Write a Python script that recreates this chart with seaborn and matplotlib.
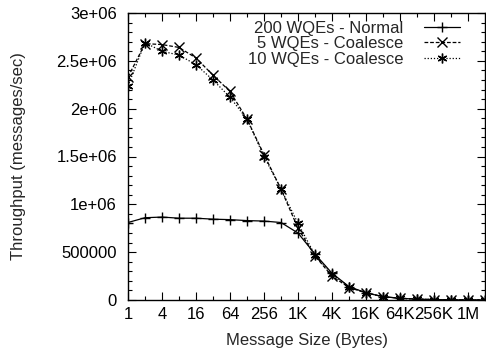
import numpy as np
import pandas as pd
import matplotlib
matplotlib.use("Agg")
import matplotlib.pyplot as plt
import seaborn as sns
from matplotlib.ticker import FixedLocator, NullFormatter, MultipleLocator

sizes = [2 ** k for k in range(22)]
normal = [0.81e6, 0.86e6, 0.867e6, 0.855e6, 0.855e6, 0.845e6, 0.84e6, 0.83e6,
          0.825e6, 0.81e6, 0.70e6, 0.48e6, 0.28e6, 0.14e6, 0.075e6, 0.035e6,
          0.018e6, 0.009e6, 0.0045e6, 0.002e6, 0.001e6, 0.0005e6]
coal5 = [2.33e6, 2.68e6, 2.67e6, 2.64e6, 2.53e6, 2.35e6, 2.18e6, 1.89e6,
         1.52e6, 1.16e6, 0.75e6, 0.46e6, 0.25e6, 0.13e6, 0.075e6, 0.035e6,
         0.018e6, 0.009e6, 0.0045e6, 0.002e6, 0.001e6, 0.0005e6]
coal10 = [2.24e6, 2.69e6, 2.60e6, 2.56e6, 2.46e6, 2.30e6, 2.12e6, 1.89e6,
          1.50e6, 1.16e6, 0.80e6, 0.47e6, 0.27e6, 0.14e6, 0.075e6, 0.035e6,
          0.018e6, 0.009e6, 0.0045e6, 0.002e6, 0.001e6, 0.0005e6]
series_names = ["200 WQEs - Normal", "5 WQEs - Coalesce", "10 WQEs - Coalesce"]
xtick_vals = [1, 4, 16, 64, 256, 1024, 4096, 16384, 65536, 262144, 1048576]
xtick_labels = ["1", "4", "16", "64", "256", "1K", "4K", "16K", "64K", "256K", "1M"]
ytick_vals = [0, 500000, 1000000, 1500000, 2000000, 2500000, 3000000]
ytick_labels = ["0", "500000", "1e+06", "1.5e+06", "2e+06", "2.5e+06", "3e+06"]

sns.set_theme(style="ticks")
plt.rcParams["font.family"] = ["Liberation Sans", "DejaVu Sans"]
plt.rcParams["font.size"] = 12

fig = plt.figure(figsize=(4.86, 3.56), dpi=100)
ax = fig.add_axes([128 / 486, 1 - 300 / 356, (485 - 128) / 486, (300 - 13) / 356])

styles = [
    dict(marker="+", linestyle="-"),
    dict(marker="x", linestyle=(0, (3, 1.5))),
    dict(marker=(6, 2, 0), linestyle=(0, (1, 1.5))),
]
for name, vals, st in zip(series_names, [normal, coal5, coal10], styles):
    sns.lineplot(x=sizes, y=vals, color="black", label=name, ax=ax,
                 marker=st["marker"], linestyle=st["linestyle"],
                 markersize=7, markeredgewidth=1.0, markeredgecolor="black",
                 linewidth=0.9)

ax.set_xscale("log", base=2)
ax.set_xlim(1, 2 ** 21)
ax.set_ylim(0, 3e6)
ax.set_xticks(xtick_vals)
ax.set_xticklabels(xtick_labels)
ax.xaxis.set_minor_locator(FixedLocator([2 ** k for k in range(1, 21, 2)]))
ax.xaxis.set_minor_formatter(NullFormatter())
ax.set_yticks(ytick_vals)
ax.set_yticklabels(ytick_labels)
ax.yaxis.set_minor_locator(MultipleLocator(100000))

ax.tick_params(which="both", direction="in", top=True, right=True,
               labelsize=12, colors="black", width=0.8)
ax.tick_params(which="major", length=6)
ax.tick_params(which="minor", length=3)
ax.tick_params(axis="x", which="major", pad=5)
ax.tick_params(axis="y", which="major", pad=8)
for sp in ax.spines.values():
    sp.set_visible(True)
    sp.set_color("black")
    sp.set_linewidth(1.0)

ax.set_xlabel("Message Size (Bytes)", fontsize=12, labelpad=8)
ax.set_ylabel("Throughput (messages/sec)", fontsize=12, labelpad=22)

handles, labels = ax.get_legend_handles_labels()
leg = ax.legend(handles, labels, loc="upper right", frameon=False,
                markerfirst=False, fontsize=12, handlelength=2.2,
                labelspacing=0.05, handletextpad=1.2,
                bbox_to_anchor=(0.952, 1.0), borderaxespad=0.05)

fig.savefig("out.png", dpi=100)
